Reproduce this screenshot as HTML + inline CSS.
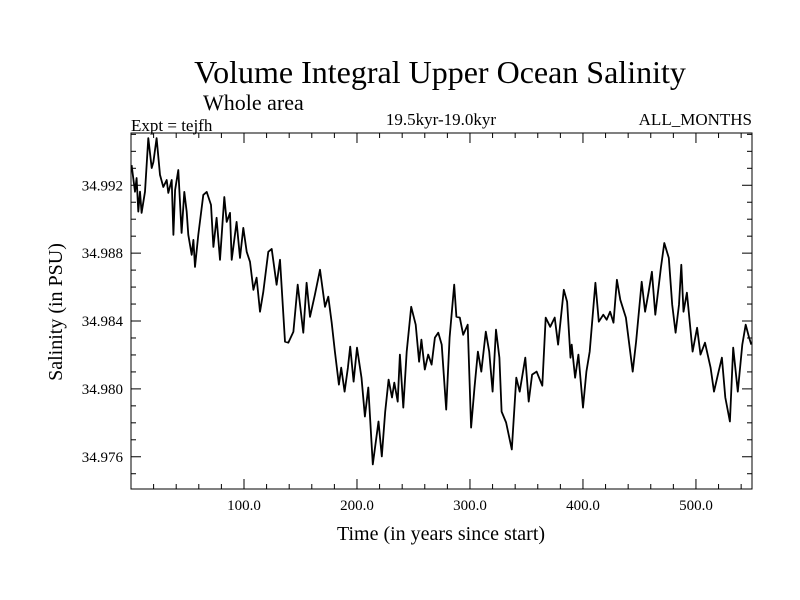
<!DOCTYPE html>
<html><head><meta charset="utf-8"><style>
body{margin:0;background:#fff;}
svg{display:block;font-family:"Liberation Serif",serif;}
</style></head><body>
<svg id="chart" width="800" height="600">
<text x="440" y="83" font-size="32" text-anchor="middle">Volume Integral Upper Ocean Salinity</text>
<text x="203" y="110" font-size="22">Whole area</text>
<text x="131" y="131" font-size="17">Expt = tejfh</text>
<text x="441" y="125" font-size="17" text-anchor="middle">19.5kyr-19.0kyr</text>
<text x="752" y="125" font-size="17" text-anchor="end">ALL_MONTHS</text>
<text x="441" y="540" font-size="20" text-anchor="middle">Time (in years since start)</text>
<text transform="translate(62,312) rotate(-90)" font-size="20" text-anchor="middle">Salinity (in PSU)</text>
<g id="ticks"></g>
<path id="line" fill="none" stroke="#000" stroke-width="1.8" stroke-linejoin="round"></path>
<rect x="131" y="133" width="621" height="356" fill="none" stroke="#000" stroke-width="1"></rect>
</svg>
<script>
const years=[0.5,3.5,5,6.5,8,9.4,12.4,15.3,18.3,19.8,22.7,25.7,28.6,31.6,33,36,37.5,39,41.9,44.8,47.2,49.3,50.7,53.7,55.2,56.6,59.6,64,67,70.8,72.9,75.8,78.8,82.6,84.7,87.6,89.1,93.5,96.5,99.4,102.4,105.3,108.3,111.2,114.2,117.1,121.5,124.5,128.9,131.9,136.3,139.2,143.7,147.5,152.5,155.4,158.4,162.8,167.3,171.7,174.6,177.6,
180.5,184,186,189,192,194,197,200,204,207,210,214,219,222,225,228,231,233,236,238,241,244,248,252,255,257,260,263,266,269,272,275,279,282,286,288,291,294,298,301,304,307,310,314,317,320,323,326,328,332,337,341,344,349,352,355,359,364,367,371,
375,378,383,386,389,390,393,396,400,403,406,411,414,418,421,424,427,430,433,438,441,444,447,452,455,458,461,464,469,472,476,479,482,485,487,489,492,497,501,504,508,513,516,520,523,526,530,533,537,541,544,547,549];
const salinity=[34.99319,34.99162,34.99243,34.99045,34.99162,34.99037,34.99162,34.99478,34.99302,34.99337,34.99478,34.99261,34.99190,34.99231,34.99155,34.99231,34.98908,34.99172,34.99290,34.98919,34.99161,34.99043,34.98908,34.98790,34.98878,34.98719,34.98908,34.99143,34.99161,34.99084,34.98837,34.99008,34.98761,34.99131,34.98984,34.99037,34.98761,34.98984,34.98772,34.98949,34.98808,34.98749,34.98584,34.98655,34.98455,34.98572,34.98808,34.98825,34.98614,34.98761,34.98278,34.98272,34.98337,34.98614,34.98331,34.98625,34.98425,34.98555,34.98702,34.98484,34.98543,34.98390,
34.98220,34.98025,34.98125,34.97984,34.98125,34.98249,34.98043,34.98243,34.98066,34.97837,34.98008,34.97555,34.97808,34.97602,34.97866,34.98055,34.97949,34.98037,34.97925,34.98202,34.97890,34.98220,34.98484,34.98378,34.98160,34.98290,34.98114,34.98202,34.98143,34.98302,34.98331,34.98261,34.97878,34.98302,34.98614,34.98425,34.98420,34.98319,34.98378,34.97772,34.98008,34.98220,34.98102,34.98337,34.98220,34.97984,34.98349,34.98184,34.97866,34.97802,34.97643,34.98066,34.97984,34.98184,34.97925,34.98084,34.98102,34.98019,34.98420,34.98366,
34.98420,34.98261,34.98584,34.98514,34.98184,34.98261,34.98066,34.98202,34.97890,34.98102,34.98220,34.98625,34.98396,34.98437,34.98408,34.98455,34.98390,34.98643,34.98525,34.98420,34.98261,34.98102,34.98278,34.98631,34.98455,34.98567,34.98690,34.98437,34.98714,34.98860,34.98772,34.98496,34.98331,34.98496,34.98731,34.98455,34.98567,34.98220,34.98360,34.98202,34.98272,34.98125,34.97984,34.98102,34.98184,34.97949,34.97808,34.98243,34.97984,34.98261,34.98378,34.98302,34.98261];
const xTickLabels=["100.0","200.0","300.0","400.0","500.0"];
const yTickLabels=["34.976","34.980","34.984","34.988","34.992"];

const L=131,R=752,T=133,B=489;
const xMin=0,xMax=549.6,yMin=34.9741,yMax=34.99508;
const sx=v=>L+(v-xMin)/(xMax-xMin)*(R-L);
const sy=v=>B-(v-yMin)/(yMax-yMin)*(B-T);
const NS="http://www.w3.org/2000/svg";
const g=document.getElementById('ticks');
function ln(x1,y1,x2,y2,name){const e=document.createElementNS(NS,'line');
e.setAttribute('x1',x1);e.setAttribute('y1',y1);e.setAttribute('x2',x2);e.setAttribute('y2',y2);
e.setAttribute('stroke','#000');e.setAttribute('stroke-width','1');


g.appendChild(e);}
function tx(x,y,s,anchor,name){const e=document.createElementNS(NS,'text');
e.setAttribute('x',x);e.setAttribute('y',y);e.setAttribute('font-size','15');e.setAttribute('text-anchor',anchor);e.textContent=s;


g.appendChild(e);}
for(let v=20;v<xMax;v+=20){const x=sx(v);const major=v%100===0;const len=major?10:5;
ln(x,B,x,B-len,'x-tick');ln(x,T,x,T+len,'x-tick-top');}
xTickLabels.forEach(s=>{tx(sx(parseFloat(s)),510,s,'middle','x-tick-label');});
for(let k=0;k*0.001+34.975<=yMax;k++){const v=34.975+k*0.001;if(v<yMin)continue;const y=sy(v);
const major=Math.round(v*1000)%4===0;const len=major?10:5;
ln(L,y,L+len,y,'y-tick');ln(R,y,R-len,y,'y-tick-right');}
yTickLabels.forEach(s=>{tx(L-8,sy(parseFloat(s))+5,s,'end','y-tick-label');});
let d='';years.forEach((yr,i)=>{d+=(i?'L':'M')+sx(yr).toFixed(1)+','+sy(salinity[i]).toFixed(1);});
document.getElementById('line').setAttribute('d',d);
</script>
</body></html>
